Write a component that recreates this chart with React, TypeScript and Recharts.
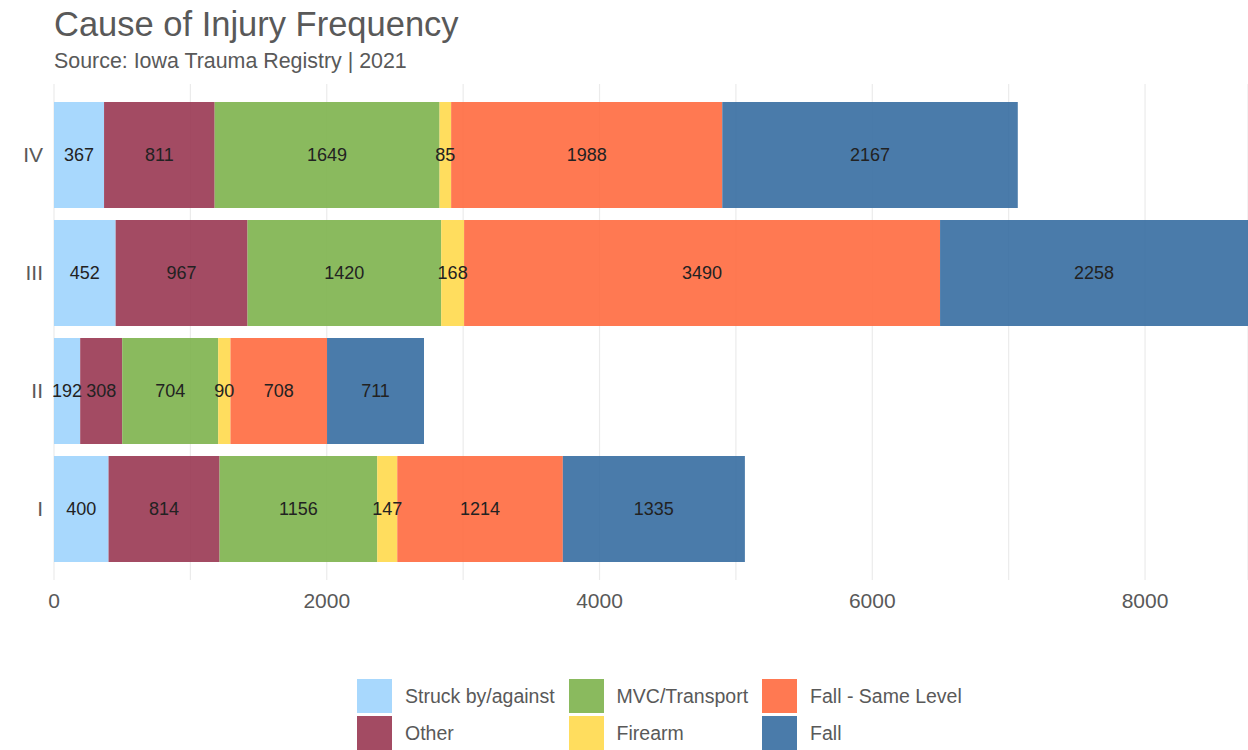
import React from "react";
import { BarChart, Bar, XAxis, YAxis, CartesianGrid, LabelList } from "recharts";

const levels = ["IV", "III", "II", "I"];
const struck = [367, 452, 192, 400];
const other = [811, 967, 308, 814];
const mvc = [1649, 1420, 704, 1156];
const firearm = [85, 168, 90, 147];
const fallSame = [1988, 3490, 708, 1214];
const fall = [2167, 2258, 711, 1335];
const xTicks = [0, 1000, 2000, 3000, 4000, 5000, 6000, 7000, 8000];

const series = [
  { key: "struck", name: "Struck by/against", values: struck, color: "#9ed4fd" },
  { key: "other", name: "Other", values: other, color: "#993752" },
  { key: "mvc", name: "MVC/Transport", values: mvc, color: "#7db24c" },
  { key: "firearm", name: "Firearm", values: firearm, color: "#ffd94c" },
  { key: "fallSame", name: "Fall - Same Level", values: fallSame, color: "#ff6a3f" },
  { key: "fall", name: "Fall", values: fall, color: "#366da1" },
];

const data = levels.map((lvl, i) => {
  const row: Record<string, string | number> = { level: lvl };
  series.forEach((s) => (row[s.key] = s.values[i]));
  return row;
});

const maxTotal = Math.max(...levels.map((_, i) => series.reduce((a, s) => a + s.values[i], 0)));

const FONT = "'Liberation Sans', Arial, sans-serif";

// legend laid out column-wise like ggplot (2 rows)
const legendCols = [
  [series[0], series[1]],
  [series[2], series[3]],
  [series[4], series[5]],
];

const App: React.FC = () => {
  return (
    <div style={{ position: "absolute", left: 0, top: 0, width: 1248, height: 750, background: "#fff", fontFamily: FONT }}>
      <svg width={1248} height={80} style={{ position: "absolute", left: 0, top: 0 }}>
        <text x={54} y={36} fontSize={34.5} fill="#595959" fontFamily={FONT}>
          Cause of Injury Frequency
        </text>
        <text x={54} y={68} fontSize={21.4} fill="#595959" fontFamily={FONT}>
          Source: Iowa Trauma Registry | 2021
        </text>
      </svg>

      <div style={{ position: "absolute", left: 0, top: 0 }}>
        <BarChart
          width={1248}
          height={750}
          data={data}
          layout="vertical"
          margin={{ top: 84, right: 0, bottom: 140, left: 0 }}
          barCategoryGap="5%"
          style={{ fontFamily: FONT }}
        >
          <CartesianGrid horizontal={false} stroke="#ebebeb" strokeWidth={1.2} />
          <XAxis
            type="number"
            domain={[0, maxTotal]}
            ticks={xTicks}
            interval={0}
            height={30}
            tickFormatter={(v: number) => (v % 2000 === 0 ? String(v) : "")}
            axisLine={false}
            tickLine={false}
            tickSize={0}
            tickMargin={13}
            tick={{ fontSize: 21, fill: "#595959" }}
            allowDataOverflow
          />
          <YAxis
            type="category"
            dataKey="level"
            width={54}
            axisLine={false}
            tickLine={false}
            tickSize={0}
            tickMargin={11}
            padding={{ top: 12, bottom: 12 }}
            tick={{ fontSize: 21, fill: "#595959" }}
          />
          {series.map((s) => (
            <Bar key={s.key} dataKey={s.key} stackId="a" fill={s.color} fillOpacity={0.9} isAnimationActive={false}>
              <LabelList dataKey={s.key} position="center" fill="#222" fontSize={18} />
            </Bar>
          ))}
        </BarChart>
      </div>

      <div style={{ position: "absolute", left: 357, top: 679, display: "flex", gap: 14 }}>
        {legendCols.map((col, ci) => (
          <div key={ci} style={{ display: "flex", flexDirection: "column", gap: 3 }}>
            {col.map((s) => (
              <div key={s.key} style={{ display: "flex", alignItems: "center", height: 34 }}>
                <div style={{ width: 35, height: 34, background: s.color, opacity: 0.9 }} />
                <span style={{ marginLeft: 13, fontSize: 19.5, color: "#595959" }}>{s.name}</span>
              </div>
            ))}
          </div>
        ))}
      </div>
    </div>
  );
};

export default App;
